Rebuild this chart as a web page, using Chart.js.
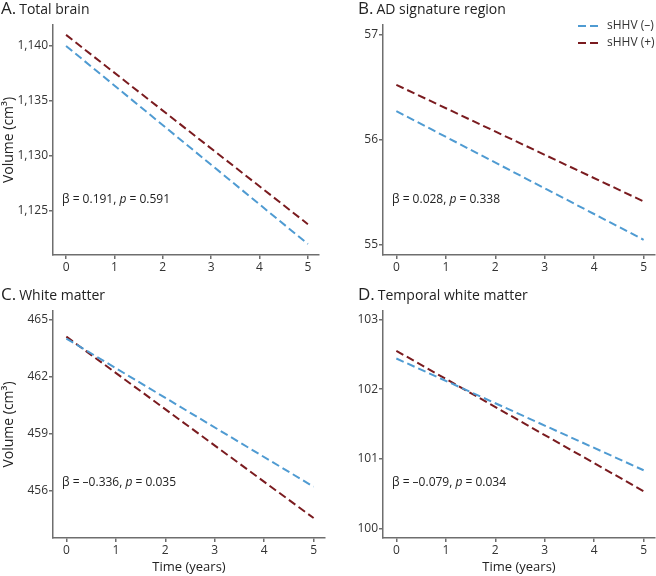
<!DOCTYPE html>
<html>
<head>
<meta charset="utf-8">
<script src="https://cdn.jsdelivr.net/npm/chart.js@4"></script>
<style>
  html, body { margin: 0; padding: 0; background: #fff; }
  body { width: 656px; height: 576px; position: relative; overflow: hidden; font-family: 'Open Sans', sans-serif; }
  .panel { position: absolute; }
</style>
</head>
<body>
<div class="panel" style="left:0;top:270px;width:330px;height:306px"><canvas id="cC" width="330" height="306"></canvas></div>
<div class="panel" style="left:330px;top:270px;width:326px;height:306px"><canvas id="cD" width="326" height="306"></canvas></div>
<div class="panel" style="left:0;top:0;width:330px;height:290px"><canvas id="cA" width="330" height="290"></canvas></div>
<div class="panel" style="left:330px;top:0;width:326px;height:290px"><canvas id="cB" width="326" height="290"></canvas></div>
<script>
// ---------- data ----------
const years = [0, 5];
const xTicks = [0, 1, 2, 3, 4, 5];
const seriesNames = ['sHHV (–)', 'sHHV (+)'];

const totalBrainNeg = [1140.0, 1122.0];
const totalBrainPos = [1141.0, 1123.8];
const totalBrainTicks = [1125, 1130, 1135, 1140];

const adSignatureNeg = [56.27, 55.045];
const adSignaturePos = [56.52, 55.41];
const adSignatureTicks = [55, 56, 57];

const whiteMatterNeg = [464.0, 456.2];
const whiteMatterPos = [464.1, 454.55];
const whiteMatterTicks = [456, 459, 462, 465];

const temporalWMNeg = [102.44, 100.84];
const temporalWMPos = [102.55, 100.54];
const temporalWMTicks = [100, 101, 102, 103];

const panelLetters = ['A.', 'B.', 'C.', 'D.'];
const panelNames = ['Total brain', 'AD signature region', 'White matter', 'Temporal white matter'];
const statsText = [
  ['β = 0.191, ', 'p', ' = 0.591'],
  ['β = 0.028, ', 'p', ' = 0.338'],
  ['β = –0.336, ', 'p', ' = 0.035'],
  ['β = –0.079, ', 'p', ' = 0.034']
];
const yTitle = 'Volume (cm³)';
const xTitle = 'Time (years)';

// ---------- styles ----------
const BLUE = '#4f9bd2';
const RED = '#7a1b1f';
const AXIS = '#6e6e6e';
const TEXT = '#333333';
const FONT = "'Open Sans', sans-serif";

const panels = [
  { id: 'cA', neg: totalBrainNeg, pos: totalBrainPos, ticks: totalBrainTicks, ymin: 1121, ymax: 1141.9,
    fmt: v => v.toLocaleString('en-US'), area: { top: 25, right: 319, bottom: 255 }, yTitle: true, xTitle: false,
    titleY: 14, statY: 200, legend: false },
  { id: 'cB', neg: adSignatureNeg, pos: adSignaturePos, ticks: adSignatureTicks, ymin: 54.9, ymax: 57.09,
    fmt: v => String(v), area: { top: 25, right: 325, bottom: 255 }, yTitle: false, xTitle: false,
    titleY: 14, statY: 200, legend: true },
  { id: 'cC', neg: whiteMatterNeg, pos: whiteMatterPos, ticks: whiteMatterTicks, ymin: 453.5, ymax: 465.45,
    fmt: v => String(v), area: { top: 41, right: 325, bottom: 268 }, yTitle: true, xTitle: true,
    titleY: 30, statY: 213, legend: false },
  { id: 'cD', neg: temporalWMNeg, pos: temporalWMPos, ticks: temporalWMTicks, ymin: 99.87, ymax: 103.12,
    fmt: v => String(v), area: { top: 41, right: 325, bottom: 268 }, yTitle: false, xTitle: true,
    titleY: 30, statY: 213, legend: false }
];

const decorPlugin = {
  id: 'decor',
  afterDraw(chart, args, opts) {
    const ctx = chart.ctx;
    const ca = chart.chartArea;
    ctx.save();
    // panel title
    ctx.textBaseline = 'alphabetic';
    ctx.textAlign = 'left';
    ctx.fillStyle = '#222';
    ctx.font = '17px ' + FONT;
    ctx.fillText(opts.letter, opts.titleX, opts.titleY);
    const lw = ctx.measureText(opts.letter).width;
    ctx.font = '14px ' + FONT;
    ctx.fillText(opts.name, opts.titleX + lw + 3, opts.titleY);
    // stats annotation
    let x = ca.left + 9;
    ctx.textBaseline = 'middle';
    ctx.fillStyle = '#222';
    opts.stats.forEach((s, i) => {
      ctx.font = (i === 1 ? 'italic ' : '') + '12px ' + FONT;
      ctx.fillText(s, x, opts.statY);
      x += ctx.measureText(s).width;
    });
    // legend
    if (opts.legend) {
      const items = [[BLUE, 26], [RED, 43]];
      items.forEach((it, i) => {
        ctx.strokeStyle = it[0];
        ctx.lineWidth = 2;
        ctx.setLineDash([8, 4]);
        ctx.beginPath();
        ctx.moveTo(248, it[1]);
        ctx.lineTo(270, it[1]);
        ctx.stroke();
        ctx.setLineDash([]);
        ctx.fillStyle = TEXT;
        ctx.font = '12px ' + FONT;
        ctx.textBaseline = 'middle';
        ctx.fillText(seriesNames[i], 277, it[1]);
      });
    }
    ctx.restore();
  }
};

panels.forEach((p, idx) => {
  const canvas = document.getElementById(p.id);
  const W = canvas.width, H = canvas.height;
  const mk = arr => years.map((x, i) => ({ x: x, y: arr[i] }));
  new Chart(canvas, {
    type: 'line',
    data: {
      datasets: [
        { label: seriesNames[0], data: mk(p.neg), borderColor: BLUE, borderWidth: 2, borderDash: [8, 4],
          pointRadius: 0, fill: false, tension: 0 },
        { label: seriesNames[1], data: mk(p.pos), borderColor: RED, borderWidth: 2, borderDash: [8, 4],
          pointRadius: 0, fill: false, tension: 0 }
      ]
    },
    options: {
      responsive: false,
      animation: false,
      events: [],
      layout: { padding: { top: p.area.top, right: W - p.area.right, left: 0, bottom: 0 } },
      plugins: {
        legend: { display: false },
        tooltip: { enabled: false },
        decor: { letter: panelLetters[idx], name: panelNames[idx], titleX: (idx % 2 === 0) ? 1 : 28,
                 titleY: p.titleY, stats: statsText[idx], statY: p.statY, legend: p.legend }
      },
      scales: {
        x: {
          type: 'linear', min: -0.27, max: 5.23,
          afterBuildTicks: s => { s.ticks = xTicks.map(v => ({ value: v })); },
          afterFit: s => { s.height = H - p.area.bottom; },
          grid: { drawOnChartArea: false, drawTicks: true, tickLength: 4, color: AXIS, lineWidth: 1.5 },
          border: { display: true, color: AXIS, width: 1.5 },
          ticks: { color: TEXT, font: { family: FONT, size: 12 }, padding: 1 },
          title: { display: p.xTitle, text: xTitle, color: '#222', font: { family: FONT, size: 13 },
                   padding: { top: 0, bottom: 1 } }
        },
        y: {
          type: 'linear', min: p.ymin, max: p.ymax,
          afterBuildTicks: s => { s.ticks = p.ticks.map(v => ({ value: v })); },
          afterFit: s => { s.width = 53; },
          grid: { drawOnChartArea: false, drawTicks: true, tickLength: 4, color: AXIS, lineWidth: 1.5 },
          border: { display: true, color: AXIS, width: 1.5 },
          ticks: { color: TEXT, font: { family: FONT, size: 12 }, padding: 1, callback: v => p.fmt(v) },
          title: { display: p.yTitle, text: yTitle, color: '#222', font: { family: FONT, size: 14 },
                   padding: { top: 1, bottom: 0 } }
        }
      }
    },
    plugins: [decorPlugin]
  });
});
</script>
</body>
</html>
